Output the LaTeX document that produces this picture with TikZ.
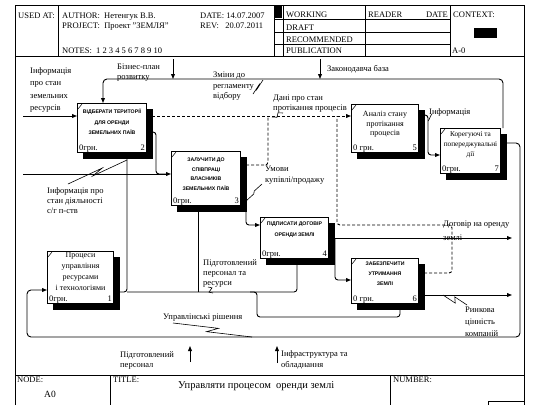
\documentclass[tikz,border=0pt]{standalone}
\usepackage{fontspec}
\setmainfont{Liberation Serif}
\newfontfamily\bsans{Liberation Sans}
\usetikzlibrary{arrows.meta,calc,backgrounds}
\newcommand\lzig[2]{\draw[zigline] (#1) -- ($(#1)!0.56!(#2)+(1.2,-2.5)$) -- ($(#1)!0.44!(#2)+(-1.2,2.5)$) -- (#2);}
\begin{document}
\begin{tikzpicture}[x=1pt,y=-1pt,
  frame/.style={line width=0.9pt},
  line/.style={line width=0.9pt},
  arrow/.style={line, -{Triangle[length=5pt,width=3.8pt]}},
  dline/.style={line, dash pattern=on 3pt off 2pt},
  darrow/.style={dline, -{Triangle[length=5pt,width=3.8pt]}},
  zigline/.style={line width=0.6pt},
  act/.style={draw, line width=1pt, fill=white, anchor=north west, inner sep=0pt},
  shade/.style={fill=black},
  lab/.style={font=\fontsize{8.5}{10.5}\selectfont, align=left, inner sep=0pt, anchor=north west},
  hdr/.style={font=\fontsize{8.5}{10}\selectfont, inner sep=0pt, anchor=base west},
  btitle/.style={font=\bsans\bfseries\fontsize{5.2}{10}\selectfont, align=center, inner sep=0pt, anchor=north},
  btext/.style={font=\fontsize{8}{10}\selectfont, align=center, inner sep=0pt, anchor=north},
  cost/.style={font=\fontsize{8.5}{10}\selectfont, inner sep=0pt, anchor=base west},
  numb/.style={font=\fontsize{8.5}{10}\selectfont, inner sep=0pt, anchor=base east},
  tick/.style={line width=0.5pt}
]
\useasboundingbox (0,0) rectangle (535,405);

% ---------- frame and header ----------
\draw[frame] (15,405) -- (15,5) -- (524,5) -- (524,405);
\draw[frame] (15,56) -- (524,56);
\draw[frame] (58,5) -- (58,56);
\draw[frame] (274,5) -- (274,56);
\draw[frame] (283,5) -- (283,56);
\draw[frame] (365,5) -- (365,56);
\draw[frame] (450,5) -- (450,56);
\draw[frame] (274,19) -- (450,19);
\draw[frame] (274,32) -- (450,32);
\draw[frame] (274,44) -- (450,44);
\fill (275,6) rectangle (282,18);
\fill (474,28) rectangle (497,38);

\node[hdr] (usedat) at (18,18) {USED AT:};
\node[hdr] (author) at (62,18) {AUTHOR:\ \ Нетенгук В.В.};
\node[hdr] (project) at (62,28) {PROJECT:\ \ Проект "ЗЕМЛЯ"};
\node[hdr] (notes) at (62,53) {NOTES:\ \ 1\ 2\ 3\ 4\ 5\ 6\ 7\ 8\ 9\ 10};
\node[hdr] (date) at (200,18) {DATE: 14.07.2007};
\node[hdr] (rev) at (200,28) {REV:\ \ \ 20.07.2011};
\node[hdr] (working) at (286,17) {WORKING};
\node[hdr] (draft) at (286,30) {DRAFT};
\node[hdr] (recom) at (286,42) {RECOMMENDED};
\node[hdr] (publ) at (286,53) {PUBLICATION};
\node[hdr] (reader) at (368,17) {READER};
\node[hdr, anchor=base east] (rdate) at (448,17) {DATE};
\node[hdr] (context) at (453,17) {CONTEXT:};
\node[hdr] (ctxnode) at (452,53) {A-0};

% ---------- footer ----------
\draw[frame] (15,375) -- (524,375);
\draw[frame] (110,375) -- (110,405);
\draw[frame] (390,375) -- (390,405);
\draw[frame] (488,405) -- (488,401) -- (524,401);
\node[hdr] (nodelbl) at (17,382) {NODE:};
\node[hdr, font=\fontsize{9.5}{10}\selectfont] (nodeval) at (44,397) {A0};
\node[hdr] (titlelbl) at (113,382) {TITLE:};
\node[hdr, font=\fontsize{10.5}{12}\selectfont] (titleval) at (178,388) {Управляти процесом\ \ оренди землі};
\node[hdr] (numlbl) at (393,382) {NUMBER:};

% ---------- activity boxes ----------
\node[act, minimum width=69pt, minimum height=49pt] (b2) at (77,103) {};
\node[act, minimum width=69pt, minimum height=54pt] (b3) at (171,151) {};
\node[act, minimum width=68pt, minimum height=41pt] (b4) at (260,217) {};
\node[act, minimum width=67pt, minimum height=48pt] (b5) at (351,104) {};
\node[act, minimum width=60pt, minimum height=45pt] (b7) at (440,128) {};
\node[act, minimum width=67pt, minimum height=45pt] (b6) at (351,258) {};
\node[act, minimum width=66pt, minimum height=52pt] (b1) at (47,251) {};

\begin{scope}[on background layer]
  \fill[white] (0,0) rectangle (535,405);
  \foreach \b in {b1,b2,b3,b4,b5,b6,b7}{
    \fill[shade] ($(\b.north west)+(6,6)$) rectangle ($(\b.south east)+(6,6)$);
  }
\end{scope}

\foreach \b in {b1,b2,b3,b4,b5,b6,b7}{
  \draw[tick] ($(\b.north west)+(1,6)$) -- ($(\b.north west)+(5,1)$);
}

\node[btitle, font=\bsans\bfseries\fontsize{5.2}{10.5}\selectfont] (t2) at ($(b2.north)+(0,6)$) {ВІДБЕРАТИ ТЕРИТОРІЇ\\ДЛЯ ОРЕНДИ\\ЗЕМЕЛЬНИХ ПАЇВ};
\node[btitle, font=\bsans\bfseries\fontsize{5.2}{9.4}\selectfont] (t3) at ($(b3.north)+(0,7)$) {ЗАЛУЧИТИ ДО\\СПІВПРАЦІ\\ВЛАСНИКІВ\\ЗЕМЕЛЬНИХ ПАЇВ};
\node[btitle, font=\bsans\bfseries\fontsize{5.2}{11}\selectfont] (t4) at ($(b4.north)+(0,5)$) {ПІДПИСАТИ ДОГОВІР\\ОРЕНДИ ЗЕМЛІ};
\node[btitle, font=\bsans\bfseries\fontsize{5.2}{10}\selectfont] (t6) at ($(b6.north)+(0,4)$) {ЗАБЕЗПЕЧИТИ\\УТРИМАННЯ\\ЗЕМЛІ};
\node[btext, font=\fontsize{8}{9.5}\selectfont] (t5) at ($(b5.north)+(0,7)$) {Аналіз стану\\протікання\\процесів};
\node[btext, font=\fontsize{7.3}{10}\selectfont] (t7) at ($(b7.north)+(0,3)$) {Корегуючі та\\попереджувальні\\дії};
\node[btext, font=\fontsize{8}{11}\selectfont] (t1) at ($(b1.north)+(0,1)$) {Процеси\\управління\\ресурсами\\і технологіями};

\node[cost] (c1) at ($(b1.south west)+(2,-3)$) {0грн.};
\node[numb] (n1) at ($(b1.south east)+(-2,-3)$) {1};
\node[cost] (c2) at ($(b2.south west)+(2,-3)$) {0грн.};
\node[numb] (n2) at ($(b2.south east)+(-2,-3)$) {2};
\node[cost] (c3) at ($(b3.south west)+(2,-3)$) {0грн.};
\node[numb] (n3) at ($(b3.south east)+(-2,-3)$) {3};
\node[cost] (c4) at ($(b4.south west)+(2,-3)$) {0грн.};
\node[numb] (n4) at ($(b4.south east)+(-2,-3)$) {4};
\node[cost] (c5) at ($(b5.south west)+(2,-3)$) {0 грн.};
\node[numb] (n5) at ($(b5.south east)+(-2,-3)$) {5};
\node[cost] (c6) at ($(b6.south west)+(2,-3)$) {0 грн.};
\node[numb] (n6) at ($(b6.south east)+(-2,-3)$) {6};
\node[cost] (c7) at ($(b7.south west)+(2,-3)$) {0грн.};
\node[numb] (n7) at ($(b7.south east)+(-2,-3)$) {7};

% ---------- connectors ----------
\coordinate (in1) at (23,116);
\coordinate (in2) at (23,174);
\coordinate (ct1) at (173,59);
\coordinate (ct2) at (320,59);
\coordinate (m1) at (190,362);
\coordinate (m2) at (277,363);

\draw[arrow] (in1) -- (in1 -| b2.west);
\draw[arrow] (in2) -- (in2 -| b3.west);
\draw[arrow] (ct1) -- (173,79);
\draw[arrow] (ct2) -- (320,79);
\draw[arrow, rounded corners=4pt] (b7.north east -| 503,0) -- (503,79) -- (103,79) -- (b2.north -| 103,0);
\draw[line, rounded corners=3pt] (b2.east |- 0,132) -- (156,132) -- (156,174) -- (168,174);
\draw[arrow, rounded corners=3pt] (b1.east |- 0,292) -- (127,292) -- (b2.south -| 127,0);
\draw[arrow, rounded corners=3pt] (127,292) -- (297,292) -- (b4.south -| 297,0);
\draw[arrow] (198,292) -- (b3.south -| 198,0);
\draw[arrow, rounded corners=3pt] (250,292) -- (257,292) -- (257,317) -- (400,317) -- (b6.south -| 400,0);
\draw[arrow, rounded corners=3pt] (b3.east |- 0,200) -- (246,200) -- (246,225) -- (b4.west |- 0,225);
\draw[arrow] (b4.east |- 0,238) -- (512,238);
\draw[arrow, rounded corners=3pt] (335,238) -- (335,280) -- (b6.west |- 0,280);
\draw[arrow] (b6.east |- 0,295) -- (512,295);
\draw[arrow, rounded corners=3pt] (b5.east |- 0,115) -- (428,115) -- (428,155) -- (b7.west |- 0,155);
\draw[arrow, rounded corners=4pt] (b7.east |- 0,143) -- (520,143) -- (520,337) -- (27,337) -- (27,290) -- (b1.west |- 0,290);
\draw[darrow] (b2.east |- 0,116) -- (b5.west |- 0,116);
\draw[dline, rounded corners=3pt] (b3.east |- 0,165) -- (268,165) -- (268,116);
\draw[dline, rounded corners=3pt] (b6.east |- 0,273) -- (452,273) -- (452,225) -- (337,225) -- (337,116);
\draw[arrow] (m1) -- (190,346);
\draw[arrow] (m2) -- (277,346);

% ---------- labels ----------
\node[lab, font=\fontsize{8.5}{12.5}\selectfont] (l1) at (30,67) {Інформація\\про стан\\земельних\\ресурсів};
\node[lab, font=\fontsize{8.5}{10}\selectfont] (l2) at (117,64) {Бізнес-план\\розвитку};
\node[lab, font=\fontsize{8.5}{10.5}\selectfont] (l3) at (213,72) {Зміни до\\регламенту\\відбору};
\node[lab] (l4) at (327,65) {Законодавча база};
\node[lab, font=\fontsize{8.5}{10}\selectfont] (l5) at (273,95) {Дані про стан\\протікання процесів};
\node[lab] (l6) at (429,108) {Інформація};
\node[lab, font=\fontsize{8.5}{10}\selectfont] (l7) at (47,187) {Інформація про\\стан діяльності\\с/г п-ств};
\node[lab, font=\fontsize{8.5}{11}\selectfont] (l8) at (265,166) {Умови\\купівлі/продажу};
\node[lab, font=\fontsize{8.5}{10}\selectfont] (l9) at (203,259) {Підготовлений\\персонал та\\ресурси};
\node[lab, font=\fontsize{8.5}{14}\selectfont] (l10) at (443,221) {Договір на оренду\\землі};
\node[lab, font=\fontsize{8.5}{12}\selectfont] (l11) at (465,307) {Ринкова\\цінність\\компаній};
\node[lab] (l12) at (163,314) {Управлінські рішення};
\node[lab, font=\fontsize{8.5}{10}\selectfont] (l13) at (120,351) {Підготовлений\\персонал};
\node[lab, font=\fontsize{8.5}{11}\selectfont] (l14) at (281,350) {Інфраструктура та\\обладнання};

% ---------- label squiggles ----------
\lzig{253,94}{263,80}
\lzig{283,113}{272,117}
\lzig{432,114}{428,121}
\lzig{68,184}{127,160}
\lzig{262,184}{246,201}
\lzig{208,287}{213,293}
\lzig{467,305}{443,295}
\lzig{173,323}{252,337}
\end{tikzpicture}
\end{document}
